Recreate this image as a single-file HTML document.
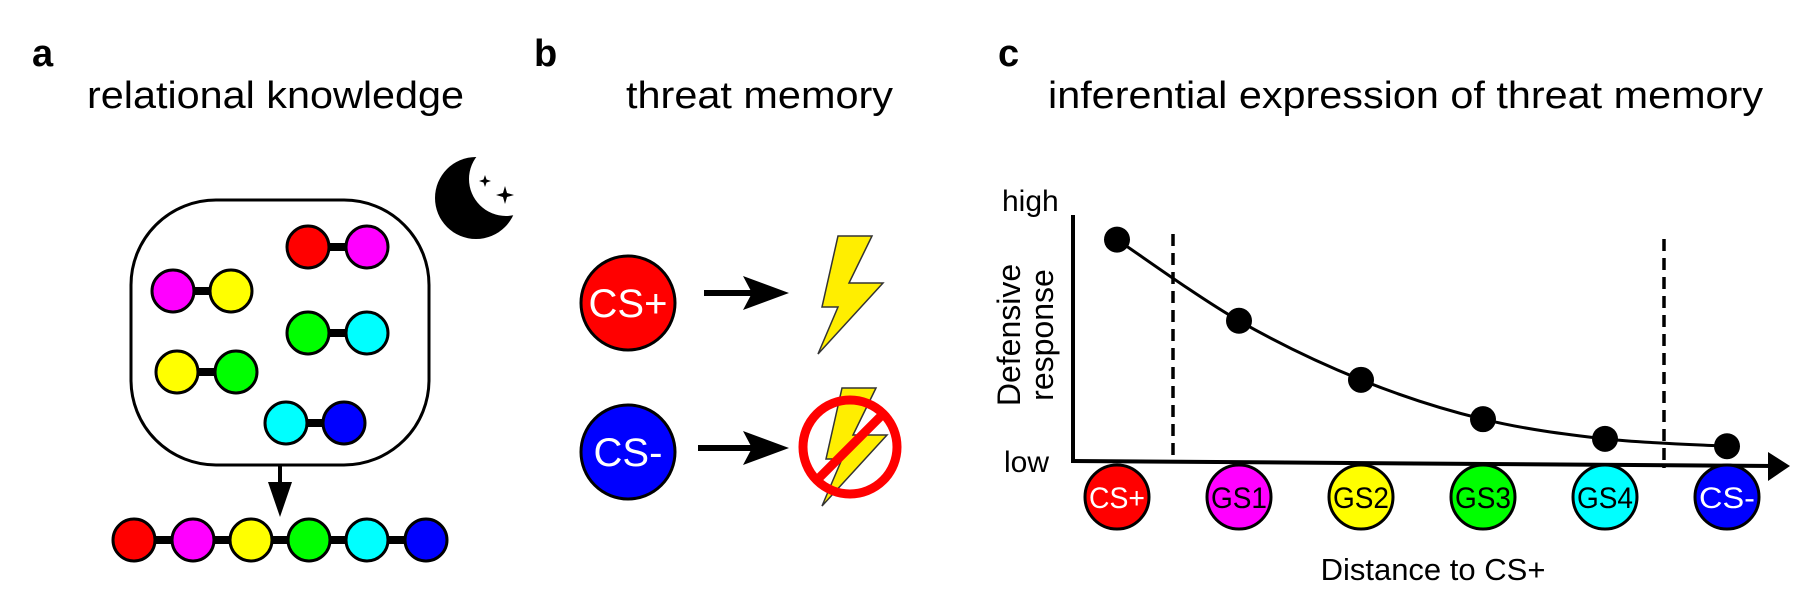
<!DOCTYPE html>
<html><head><meta charset="utf-8"><style>
html,body{margin:0;padding:0;background:#fff;}
svg{display:block;font-family:"Liberation Sans",Arial,sans-serif;}
</style></head><body>
<svg id="fig" width="1818" height="598" viewBox="0 0 1818 598">
<!-- Panel titles -->
<text x="32" y="66" font-size="38" font-weight="bold">a</text>
<text x="87" y="108" font-size="38" textLength="377" lengthAdjust="spacingAndGlyphs">relational knowledge</text>
<text x="534" y="66" font-size="38" font-weight="bold">b</text>
<text x="626" y="108" font-size="38" textLength="267" lengthAdjust="spacingAndGlyphs">threat memory</text>
<text x="998" y="66" font-size="38" font-weight="bold">c</text>
<text x="1048" y="108" font-size="38" textLength="715" lengthAdjust="spacingAndGlyphs">inferential expression of threat memory</text>

<!-- Panel a -->
<g>
<rect x="131" y="200" width="298" height="265" rx="85" ry="85" fill="none" stroke="#000" stroke-width="3"/>
<g>
<circle cx="476" cy="198" r="41" fill="#000"/>
<circle cx="506" cy="179" r="37" fill="#fff"/>
<path d="M485 175 L486.5 179.5 L491 181 L486.5 182.5 L485 187 L483.5 182.5 L479 181 L483.5 179.5Z" fill="#000"/>
<path d="M505 186 L507 193 L514 195 L507 197 L505 204 L503 197 L496 195 L503 193Z" fill="#000"/>
</g>
<g id="pairs"></g>
<line x1="280" y1="465" x2="280" y2="490" stroke="#000" stroke-width="4"/>
<polygon points="268,482 292,482 280,517" fill="#000"/>
<g id="chain"></g>
</g>

<!-- Panel b -->
<g>
<circle cx="628" cy="303" r="47" fill="#ff0000" stroke="#000" stroke-width="3"/>
<text x="628" y="317" font-size="40" fill="#fff" text-anchor="middle">CS+</text>
<circle cx="628" cy="452" r="47" fill="#0000ff" stroke="#000" stroke-width="3"/>
<text x="628" y="466" font-size="40" fill="#fff" text-anchor="middle">CS-</text>
<g>
<line x1="704" y1="293" x2="760" y2="293" stroke="#000" stroke-width="6"/>
<polygon points="743,276 789,293 743,310 752,293" fill="#000"/>
</g>
<g>
<line x1="698" y1="448" x2="760" y2="448" stroke="#000" stroke-width="6"/>
<polygon points="743,431 789,448 743,465 752,448" fill="#000"/>
</g>
<polygon points="838,236 872,236 849,283 883,283 818,354 838,307 822,307" fill="#ffee00" stroke="#333" stroke-width="1.5"/>
<polygon points="842,388 876,388 853,435 887,435 822,506 842,459 826,459" fill="#ffee00" stroke="#333" stroke-width="1.5"/>
<g>
<circle cx="850" cy="447" r="47" fill="none" stroke="#ff0000" stroke-width="9"/>
<line x1="884" y1="413" x2="816" y2="481" stroke="#ff0000" stroke-width="9"/>
</g>
</g>

<!-- Panel c chart -->
<g id="chart">
<text x="1002" y="211" font-size="30">high</text>
<text x="1004" y="472" font-size="30">low</text>
<text transform="translate(1020,335) rotate(-90)" font-size="32" text-anchor="middle">Defensive</text>
<text transform="translate(1053,335) rotate(-90)" font-size="32" text-anchor="middle">response</text>
<text x="1433" y="580" font-size="31" text-anchor="middle">Distance to CS+</text>
<line x1="1073" y1="215" x2="1073" y2="463" stroke="#000" stroke-width="4"/>
<line x1="1071" y1="461" x2="1775" y2="466" stroke="#000" stroke-width="4"/>
<polygon points="1768,452 1790,466 1768,481" fill="#000"/>
<line x1="1173" y1="234" x2="1173" y2="456" stroke="#000" stroke-width="3.5" stroke-dasharray="12,7"/>
<line x1="1664" y1="239" x2="1664" y2="468" stroke="#000" stroke-width="3.5" stroke-dasharray="12,7"/>
<g id="marks"></g>
</g>
</svg>
<script>
// Chart data
const categories = ["CS+", "GS1", "GS2", "GS3", "GS4", "CS-"];
const responseValues = [0.90, 0.57, 0.33, 0.17, 0.09, 0.06];
const catFill = ["#ff0000", "#ff00ff", "#ffff00", "#00ff00", "#00ffff", "#0000ff"];
const catText = ["#fff", "#000", "#000", "#000", "#000", "#fff"];

const NS = "http://www.w3.org/2000/svg";
function mk(tag, attrs, parent) {
  const e = document.createElementNS(NS, tag);
  for (const k in attrs) e.setAttribute(k, attrs[k]);
  parent.appendChild(e);
  return e;
}
function xPos(i) { return 1117 + i * 122; }
function yPos(v) { return 461 - v * 246; }

const marks = document.getElementById("marks");
const pts = responseValues.map((v, i) => [xPos(i), yPos(v)]);
let d = "M" + pts[0][0] + " " + pts[0][1];
for (let i = 0; i < pts.length - 1; i++) {
  const p0 = pts[Math.max(0, i - 1)], p1 = pts[i], p2 = pts[i + 1], p3 = pts[Math.min(pts.length - 1, i + 2)];
  const c1x = p1[0] + (p2[0] - p0[0]) / 6, c1y = p1[1] + (p2[1] - p0[1]) / 6;
  const c2x = p2[0] - (p3[0] - p1[0]) / 6, c2y = p2[1] - (p3[1] - p1[1]) / 6;
  d += " C" + c1x + " " + c1y + " " + c2x + " " + c2y + " " + p2[0] + " " + p2[1];
}
const curve = mk("path", {d: d, fill: "none", stroke: "#000", "stroke-width": 3}, marks);


pts.forEach((p, i) => {
  const c = mk("circle", {cx: p[0], cy: p[1], r: 13, fill: "#000"}, marks);
  
  
});
categories.forEach((cat, i) => {
  const x = xPos(i);
  const c = mk("circle", {cx: x, cy: 497, r: 32, fill: catFill[i], stroke: "#000", "stroke-width": 3}, marks);
  
  
  const t = mk("text", {x: x, y: 508, "font-size": 30, "text-anchor": "middle", fill: catText[i], textLength: 56, lengthAdjust: "spacingAndGlyphs"}, marks);
  t.textContent = cat;
  
  
});

// Panel a pairs
const pairsG = document.getElementById("pairs");
const pairs = [
  [308, 247, "#ff0000", 367, "#ff00ff"],
  [173, 291, "#ff00ff", 231, "#ffff00"],
  [308, 333, "#00ff00", 367, "#00ffff"],
  [177, 372, "#ffff00", 236, "#00ff00"],
  [286, 423, "#00ffff", 344, "#0000ff"]
];
pairs.forEach(p => {
  const g = mk("g", {}, pairsG);
  
  
  mk("line", {x1: p[0], y1: p[1], x2: p[3], y2: p[1], stroke: "#000", "stroke-width": 8}, g);
  mk("circle", {cx: p[0], cy: p[1], r: 21, fill: p[2], stroke: "#000", "stroke-width": 3}, g);
  mk("circle", {cx: p[3], cy: p[1], r: 21, fill: p[4], stroke: "#000", "stroke-width": 3}, g);
});
const chainG = document.getElementById("chain");


const chainX = [134, 193, 251, 309, 367, 426];
mk("line", {x1: 134, y1: 540, x2: 426, y2: 540, stroke: "#000", "stroke-width": 8}, chainG);
chainX.forEach((x, i) => {
  mk("circle", {cx: x, cy: 540, r: 21, fill: catFill[i], stroke: "#000", "stroke-width": 3}, chainG);
});
</script>
</body></html>
